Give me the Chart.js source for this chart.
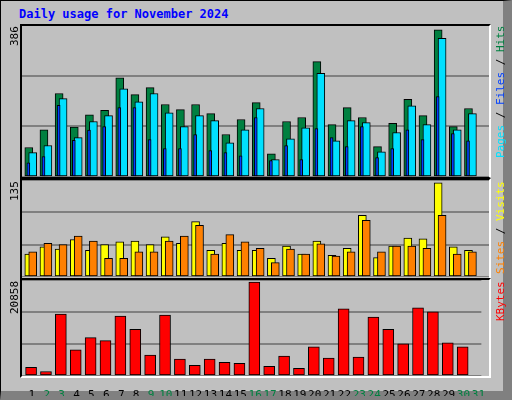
<!DOCTYPE html>
<html>
<head>
<meta charset="utf-8">
<script src="https://cdn.jsdelivr.net/npm/chart.js@4/dist/chart.umd.min.js"></script>
<style>
  body { margin: 0; background: #fff; }
  #frame { position: absolute; left: 0; top: 0; width: 502px; height: 390px; background: #c0c0c0;
    border: 1px solid #000; border-right: 9px solid #808080; border-bottom: 9px solid #808080; }
  .title { position: absolute; left: 19px; top: 7px; font: bold 12px "DejaVu Sans Mono", monospace; color: #0000ff; }
  .plot { position: absolute; left: 20px; width: 471px; border-top: 2px solid #000; border-left: 2px solid #000;
    border-right: 2px solid #fff; box-sizing: border-box; pointer-events: none; }
  canvas { position: absolute; }
  .vlab { position: absolute; writing-mode: vertical-rl; transform: rotate(180deg); text-align: end;
    font: 11px "DejaVu Sans Mono", monospace; white-space: nowrap; }
</style>
</head>
<body>
<div id="frame"></div>
<div class="title">Daily usage for November 2024</div>

<canvas id="c1" style="left:20px;top:25px;width:470px;height:152px"></canvas>
<canvas id="c2" style="left:20px;top:180px;width:470px;height:97px"></canvas>
<canvas id="c3" style="left:20px;top:280px;width:470px;height:116px"></canvas>
<div class="plot" style="top:24px;height:154px;border-bottom:1px solid #000"></div>
<div class="plot" style="top:178px;height:101px;border-bottom:1px solid #000"></div>
<div class="plot" style="top:278px;height:100px;border-bottom:2px solid #fff"></div>

<div class="vlab" style="left:8px;top:26px;height:60px">386</div>
<div class="vlab" style="left:8px;top:181px;height:60px">135</div>
<div class="vlab" style="left:8px;top:281px;height:60px">20858</div>
<div class="vlab" style="left:494px;top:26px;height:140px"><span style="color:#00e0ff">Pages</span> / <span style="color:#0040ff">Files</span> / <span style="color:#008040">Hits</span></div>
<div class="vlab" style="left:494px;top:181px;height:97px"><span style="color:#ff8000">Sites</span> / <span style="color:#ffff00">Visits</span></div>
<div class="vlab" style="left:494px;top:281px;height:96px"><span style="color:#ff0000">KBytes</span></div>

<script>
const days = Array.from({ length: 31 }, (_, i) => i + 1);
const weekend = [2, 3, 9, 10, 16, 17, 23, 24, 30, 31];

const hits  = [75, 120, 212, 127, 158, 169, 252, 209, 227, 184, 171, 184, 161, 108, 146, 189, 59, 141, 151, 293, 133, 176, 151, 77, 136, 197, 156, 374, 128, 174, 0];
const files = [62, 80, 199, 100, 141, 156, 224, 191, 212, 163, 128, 156, 143, 87, 120, 174, 44, 97, 125, 263, 92, 143, 138, 64, 113, 181, 133, 352, 120, 161, 0];
const pages = [36, 52, 182, 93, 119, 128, 176, 176, 95, 72, 72, 108, 67, 62, 54, 151, 42, 80, 44, 123, 100, 77, 128, 49, 72, 120, 95, 204, 110, 92, 0];

const visits = [32, 42, 39, 52, 37, 45, 49, 50, 45, 56, 47, 77, 37, 47, 37, 37, 26, 43, 32, 50, 30, 40, 86, 27, 43, 54, 53, 131, 42, 37, 0];
const sites  = [35, 47, 45, 57, 50, 26, 26, 35, 35, 50, 57, 72, 32, 59, 49, 40, 20, 39, 32, 46, 29, 35, 79, 35, 43, 43, 40, 86, 32, 35, 0];

const kbytes = [1860, 970, 13480, 5660, 8340, 7670, 13040, 10130, 4540, 13260, 3650, 2310, 3650, 2980, 2760, 20410, 2090, 4320, 1640, 6330, 3870, 14600, 4100, 12810, 10130, 7000, 14830, 13930, 7230, 6330, 0];

const maxHits = 386;
const maxVisits = 135;
const maxKbytes = 20858;

function series(values, shift) {
  return values.map((v, i) => ({ x: days[i] + shift, y: v }));
}

function bars(label, values, shift, color, width, order) {
  return {
    label, data: series(values, shift), backgroundColor: color, borderColor: '#000',
    borderWidth: 1, borderSkipped: false, barThickness: width, order, grouped: false
  };
}

function yScale(max) {
  return {
    min: 0, max, display: true,
    afterBuildTicks: s => { s.ticks = [0, max / 3, 2 * max / 3, max].map(v => ({ value: v })); },
    afterFit: s => { s.width = 0; },
    ticks: { display: false },
    border: { display: false },
    grid: { color: '#808080', lineWidth: 2, drawTicks: false }
  };
}

function xScale(showLabels) {
  const x = {
    type: 'linear', min: 0.5, max: 31.5, display: showLabels,
    offset: false,
    afterBuildTicks: s => { s.ticks = days.map(d => ({ value: d + 0.3 })); },
    grid: { display: false },
    border: { display: false },
    ticks: {
      autoSkip: false, maxRotation: 0, padding: 5,
      font: { family: 'DejaVu Sans Mono', size: 11 },
      color: ctx => weekend.includes(Math.round(ctx.tick.value - 0.3)) ? '#008040' : '#000',
      callback: v => String(Math.round(v - 0.3))
    }
  };
  if (showLabels) x.afterFit = s => { s.height = 20; };
  return x;
}

function makeChart(id, datasets, max, showLabels) {
  new Chart(document.getElementById(id), {
    type: 'bar',
    data: { datasets },
    options: {
      responsive: false, animation: false,
      layout: { padding: 0 },
      plugins: { legend: { display: false }, tooltip: { enabled: false } },
      scales: { x: xScale(showLabels), y: yScale(max) }
    }
  });
}

function sizeCanvas(id) {
  const c = document.getElementById(id);
  c.width = parseInt(c.style.width);
  c.height = parseInt(c.style.height);
}
['c1', 'c2', 'c3'].forEach(sizeCanvas);

makeChart('c1', [
  bars('Pages', pages, 0.05, '#0040ff', 3, 1),
  bars('Files', files, 0.34, '#00e0ff', 8, 2),
  bars('Hits', hits, 0.08, '#008040', 8, 3)
], maxHits, false);

makeChart('c2', [
  bars('Sites', sites, 0.34, '#ff8000', 8, 1),
  bars('Visits', visits, 0.08, '#ffff00', 8, 2)
], maxVisits, false);

makeChart('c3', [
  bars('KBytes', kbytes, 0.245, '#ff0000', 11, 1)
], maxKbytes, true);
</script>
</body>
</html>
